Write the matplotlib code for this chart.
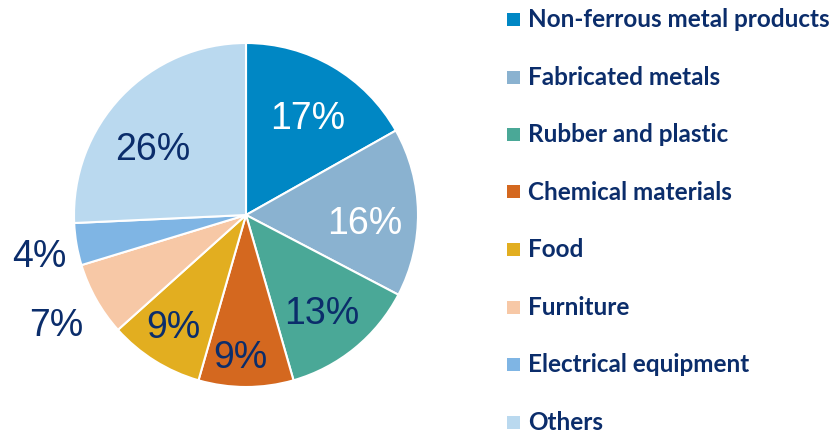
import numpy as np
import matplotlib
matplotlib.use("Agg")
import matplotlib.pyplot as plt
from matplotlib.patches import Rectangle

# ── Data ──────────────────────────────────────────────────────────────────────
CATEGORIES = [
    "Non-ferrous metal products",
    "Fabricated metals",
    "Rubber and plastic",
    "Chemical materials",
    "Food",
    "Furniture",
    "Electrical equipment",
    "Others",
]
SHARES = [17, 16, 13, 9, 9, 7, 4, 26]
LABELS = ["17%", "16%", "13%", "9%", "9%", "7%", "4%", "26%"]

# ── Style ─────────────────────────────────────────────────────────────────────
COLORS = ["#0087c4", "#8ab2d0", "#4aa897", "#d4681f",
          "#e2ae20", "#f7c8a6", "#7fb5e4", "#bad9ef"]
LABEL_COLORS = ["white", "white", "#0b2d6b", "#0b2d6b",
                "#0b2d6b", "#0b2d6b", "#0b2d6b", "#0b2d6b"]
# label placement: distance from centre (pie radii) and clockwise shift (deg)
LABEL_RADII = [0.68, 0.69, 0.705, 0.81, 0.76, 1.266, 1.224, 0.674]
LABEL_SHIFT = [1.4, 3.3, 0.7, 2.3, 1.6, 0.1, -0.6, -7.4]
NAVY = "#0b2d6b"

W, H = 836, 440
fig = plt.figure(figsize=(W / 100, H / 100), dpi=100)

cx, cy, r = 246, 215, 172
ax = fig.add_axes([(cx - r) / W, (H - cy - r) / H, 2 * r / W, 2 * r / H])
wedges, _ = ax.pie(SHARES, colors=COLORS, startangle=90, counterclock=False,
                   radius=1.0,
                   wedgeprops=dict(edgecolor="white", linewidth=1.5))
ax.set_xlim(-1, 1)
ax.set_ylim(-1, 1)
ax.set_aspect("equal")
ax.axis("off")

for w, lab, col, rad, sh in zip(wedges, LABELS, LABEL_COLORS,
                                LABEL_RADII, LABEL_SHIFT):
    ang = np.deg2rad((w.theta1 + w.theta2) / 2 - sh)
    ax.text(rad * np.cos(ang), rad * np.sin(ang), lab, color=col,
            fontsize=27, family="Liberation Sans",
            ha="center", va="center_baseline", clip_on=False)

# ── Legend ────────────────────────────────────────────────────────────────────
y0, dy = 19.5, 57.5
for i, (name, col) in enumerate(zip(CATEGORIES, COLORS)):
    y = y0 + i * dy
    fig.patches.append(Rectangle((507 / W, (H - y - 6.5) / H), 13 / W, 13 / H,
                                 transform=fig.transFigure, facecolor=col,
                                 edgecolor="none"))
    fig.text(528 / W, (H - y) / H, name, color=NAVY, fontsize=17.5,
             family="Lato", fontweight="bold", ha="left", va="center")

fig.savefig("out.png", dpi=100)
